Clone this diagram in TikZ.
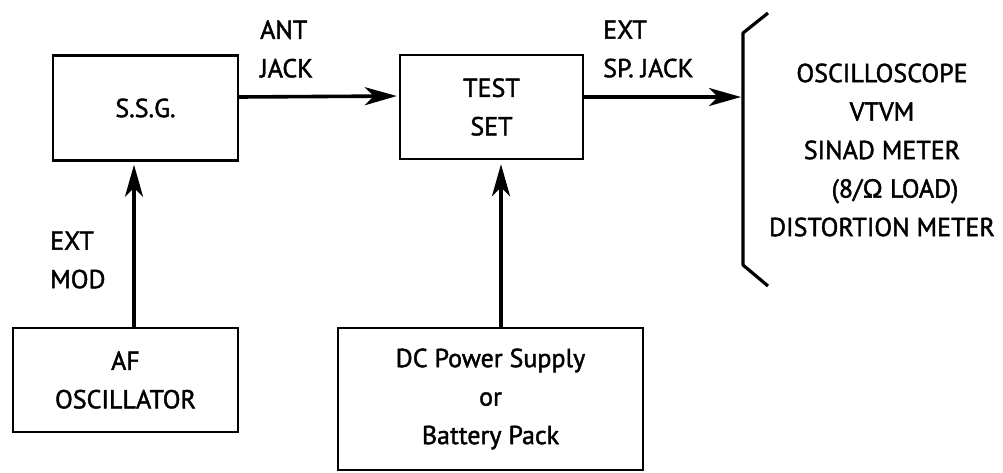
\documentclass[tikz,border=0pt]{standalone}
\usepackage{fontspec}
\setmainfont{PT Sans}[FakeBold=1.6]
\usetikzlibrary{arrows.meta}

\begin{document}
\begin{tikzpicture}[x=1pt,y=-1pt,font=\fontsize{26}{38.5}\selectfont,
  box/.style={draw,line width=2.4pt,inner sep=0pt,align=center},
  lbl/.style={anchor=west,align=left,inner sep=0pt},
  sig/.style={line width=3.6pt,-{Stealth[length=32pt,width=18pt,inset=9pt]}}]
  \useasboundingbox (0,0) rectangle (1003,472);
  % blocks
  \node[box,minimum width=185pt,minimum height=105pt] (ssg) at (145.5,108) {S.S.G.};
  \node[box,minimum width=183pt,minimum height=104pt] (test) at (491.5,107) {TEST\\SET};
  \node[box,minimum width=225pt,minimum height=104pt] (afosc) at (125.5,380) {AF\\OSCILLATOR};
  \node[box,minimum width=305pt,minimum height=142pt] (dcps) at (490.5,399) {DC Power Supply\\or\\Battery Pack};
  % bracket round the meters
  \coordinate (brtop) at (768,13);
  \coordinate (brA) at (743,33);
  \coordinate (brB) at (743,265);
  \coordinate (brbot) at (768,286);
  \draw[line width=3.2pt,line join=round] (brtop)--(brA)--(brB)--(brbot);
  \coordinate (brin) at (743,97);
  \node[align=center,inner sep=0pt] (meters) at (882,150)
    {OSCILLOSCOPE\\VTVM\\SINAD METER\\\hspace*{26pt}(8/Ω LOAD)\\DISTORTION METER};
  % connections
  \draw[sig,shorten >=2pt] ([yshift=11pt]ssg.east) -- ([yshift=11pt]test.west);
  \draw[sig,shorten >=2pt] ([yshift=10pt]test.east) -- (brin);
  \draw[sig,shorten >=3pt] ([xshift=8.5pt]afosc.north) -- ([xshift=8.5pt]afosc.north |- ssg.south);
  \draw[sig,shorten >=4pt] ([xshift=10.5pt]dcps.north) -- ([xshift=10.5pt]dcps.north |- test.south);
  % jack labels
  \node[lbl] (antjack) at (260,49) {ANT\\JACK};
  \node[lbl] (spjack) at (603,49) {EXT\\SP. JACK};
  \node[lbl] (extmod) at (50,260) {EXT\\MOD};
\end{tikzpicture}
\end{document}
